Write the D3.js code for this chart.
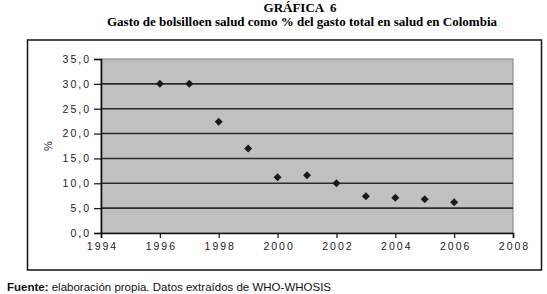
<!DOCTYPE html>
<html>
<head>
<meta charset="utf-8">
<script src="https://cdn.jsdelivr.net/npm/d3@7"></script>
<style>
  body { margin: 0; background: #fff; }
  svg { display: block; }
</style>
</head>
<body>
<div id="chart"></div>
<script>
(() => {
    const years = [1996, 1997, 1998, 1999, 2000, 2001, 2002, 2003, 2004, 2005, 2006];
    const gastoBolsillo = [30.0, 30.0, 22.4, 17.0, 11.2, 11.6, 10.0, 7.4, 7.1, 6.8, 6.2];
    const yTicks = [0, 5, 10, 15, 20, 25, 30, 35];
    const xTicks = [1994, 1996, 1998, 2000, 2002, 2004, 2006, 2008];

    const width = 547;
    const height = 294;
    const plot = { left: 101, right: 513, top: 59, bottom: 233 };

    const svg = d3.select('#chart')
        .append('svg')
        .attr('width', width)
        .attr('height', height);

    // titles
    svg.append('text')
        .attr('x', 300).attr('y', 12)
        .attr('text-anchor', 'middle')
        .style('font-family', 'Liberation Serif, serif')
        .style('font-weight', 'bold')
        .style('font-size', '13px')
        .style('white-space', 'pre')
        .text('GRÁFICA  6');

    svg.append('text')
        .attr('x', 302).attr('y', 26)
        .attr('text-anchor', 'middle')
        .style('font-family', 'Liberation Serif, serif')
        .style('font-weight', 'bold')
        .style('font-size', '13px')
        .text('Gasto de bolsilloen salud como % del gasto total en salud en Colombia');

    // outer frame
    svg.append('rect')
        .attr('x', 27.5).attr('y', 40)
        .attr('width', 514).attr('height', 230)
        .attr('fill', '#fff')
        .attr('stroke', '#111')
        .attr('stroke-width', 1.5);

    const x = d3.scaleLinear().domain([1994, 2008]).range([plot.left, plot.right]);
    const y = d3.scaleLinear().domain([0, 35]).range([plot.bottom, plot.top]);

    // plot background
    svg.append('rect')
        .attr('x', plot.left).attr('y', plot.top)
        .attr('width', plot.right - plot.left)
        .attr('height', plot.bottom - plot.top)
        .attr('fill', '#c0c0c0')
        .attr('stroke', '#808080')
        .attr('stroke-width', 1);

    // gridlines
    svg.append('g')
        .selectAll('line')
        .data(yTicks.filter(d => d > 0 && d < 35))
        .enter()
        .append('line')
        .attr('x1', plot.left).attr('x2', plot.right)
        .attr('y1', d => y(d)).attr('y2', d => y(d))
        .attr('stroke', '#2b2b2b')
        .attr('stroke-width', 1.6);

    const tickFont = g => g.selectAll('text')
        .style('font-family', 'Liberation Sans, Arial, sans-serif')
        .style('font-size', '10.5px')
        .style('letter-spacing', '2px')
        .attr('fill', '#222');

    // y axis
    const yAxis = svg.append('g')
        .attr('transform', `translate(${plot.left},0)`)
        .call(d3.axisLeft(y).tickValues(yTicks).tickSize(7).tickPadding(3)
            .tickFormat(d => d3.format('.1f')(d).replace('.', ',')));
    yAxis.select('.domain').attr('stroke', '#111').attr('stroke-width', 1.6);
    yAxis.selectAll('.tick line').attr('stroke', '#111').attr('stroke-width', 1.2);
    yAxis.call(tickFont);

    // x axis
    const xAxis = svg.append('g')
        .attr('transform', `translate(0,${plot.bottom})`)
        .call(d3.axisBottom(x).tickValues(xTicks).tickSize(5).tickPadding(5)
            .tickFormat(d3.format('d')));
    xAxis.select('.domain').attr('stroke', '#111').attr('stroke-width', 1.6);
    xAxis.selectAll('.tick line').attr('stroke', '#111').attr('stroke-width', 1.2);
    xAxis.call(tickFont);
    xAxis.selectAll('text').attr('dx', '1px');

    // y label
    svg.append('text')
        .attr('transform', 'translate(52,146) rotate(-90)')
        .attr('text-anchor', 'middle')
        .style('font-family', 'Liberation Sans, Arial, sans-serif')
        .style('font-size', '11px')
        .attr('fill', '#222')
        .text('%');

    // markers (square turned 45 deg = diamond)
    const marker = d3.symbol().type(d3.symbolSquare).size(32);
    svg.append('g')
        .selectAll('path')
        .data(years.map((yr, i) => ({ yr, v: gastoBolsillo[i] })))
        .enter()
        .append('path')
        .attr('d', marker)
        .attr('transform', d => `translate(${x(d.yr)},${y(d.v)}) rotate(45)`)
        .attr('fill', '#1a1a1a');

    // source
    const src = svg.append('text')
        .attr('x', 7).attr('y', 291)
        .style('font-family', 'Liberation Sans, Arial, sans-serif')
        .style('font-size', '11.5px')
        .attr('fill', '#111');
    src.append('tspan').style('font-weight', 'bold').text('Fuente:');
    src.append('tspan').text(' elaboración propia. Datos extraídos de WHO-WHOSIS');
})();
</script>
</body>
</html>
